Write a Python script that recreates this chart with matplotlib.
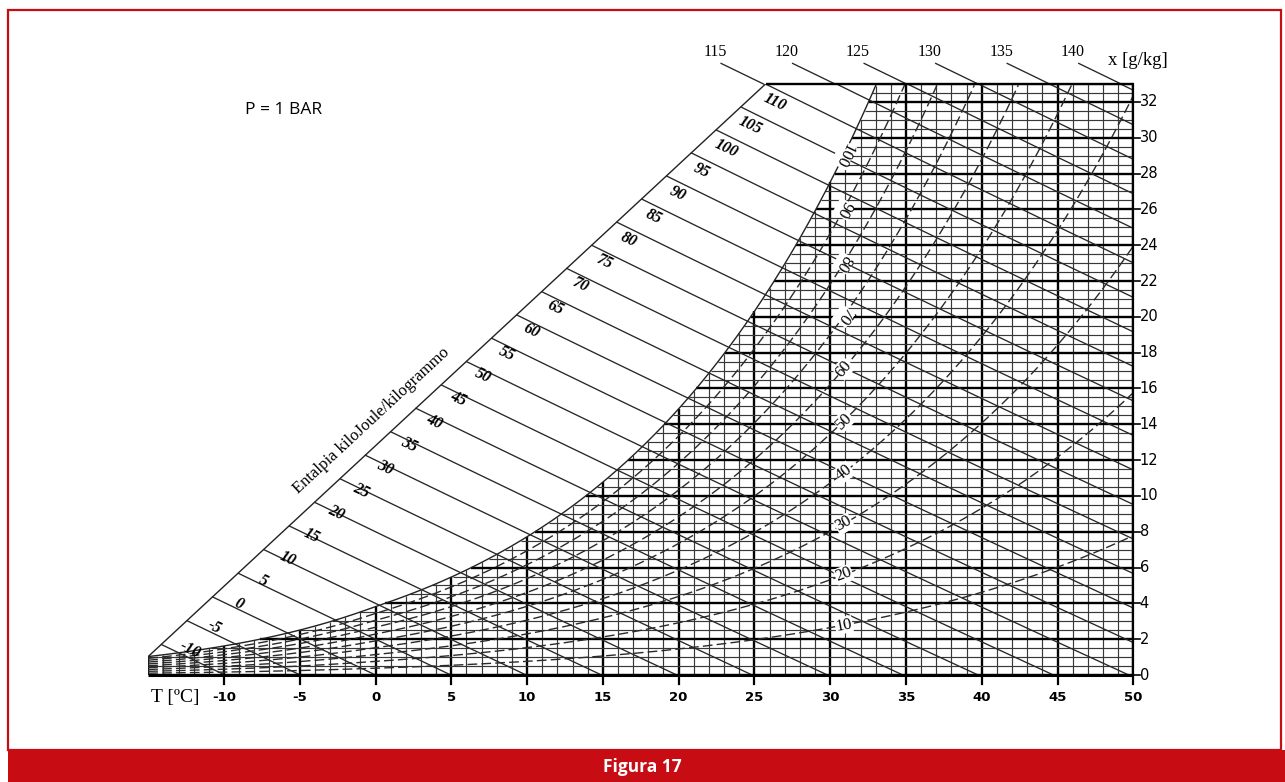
import numpy as np
import matplotlib
matplotlib.use("Agg")
import matplotlib.pyplot as plt
from matplotlib.patches import Rectangle

# ---- chart constants and data -------------------------------------------
P_KPA = 100.0            # total pressure, 1 bar
T_MIN, T_MAX = -15, 50   # dry-bulb range [°C]
X_MAX = 33               # humidity ratio range [g/kg]

temp_ticks = [-10, -5, 0, 5, 10, 15, 20, 25, 30, 35, 40, 45, 50]
x_ticks = [0, 2, 4, 6, 8, 10, 12, 14, 16, 18, 20, 22, 24, 26, 28, 30, 32]
rh_levels = [10, 20, 30, 40, 50, 60, 70, 80, 90]
rh_labels = [10, 20, 30, 40, 50, 60, 70, 80, 90, 100]
h_diag = [-10, -5, 0, 5, 10, 15, 20, 25, 30, 35, 40, 45, 50, 55,
          60, 65, 70, 75, 80, 85, 90, 95, 100, 105, 110]
h_inner = [115, 120, 125, 130, 135]
h_top = [115, 120, 125, 130, 135, 140]


def p_sat(T):
    T = np.asarray(T, dtype=float)
    water = 0.61094 * np.exp(17.625 * T / (T + 243.04))
    ice = 0.61115 * np.exp(22.452 * T / (272.55 + T))
    return np.where(T >= 0, water, ice)


def x_of(T, phi):
    pv = phi * p_sat(T)
    return 622.0 * pv / (P_KPA - pv)


def T_of_h(h, x):
    return (h - 2.501 * x) / (1.006 + 0.00186 * x)


T_fine = np.linspace(T_MIN, T_MAX, 6501)
x_sat_fine = x_of(T_fine, 1.0)


def T_sat(x):
    return np.interp(x, x_sat_fine, T_fine)


# ---- figure ----------------------------------------------------------------
W, H = 1285, 782
fig = plt.figure(figsize=(W / 100, H / 100), dpi=100)
fig.patch.set_facecolor("white")

red = "#C70C13"
fig.add_artist(Rectangle((8 / W, 32 / H), (1281 - 8) / W, (772 - 32) / H,
                         transform=fig.transFigure, fill=False,
                         edgecolor=red, lw=1.6))
fig.add_artist(Rectangle((8 / W, 0), 1 - 8 / W, 32 / H,
                         transform=fig.transFigure, facecolor=red,
                         edgecolor="none"))
fig.text(642 / W, 15 / H, "Figura 17", color="white", ha="center",
         va="center", fontsize=12.5, fontweight="bold", family="Open Sans")
fig.text(245 / W, 1 - 110 / H, "P = 1 BAR", ha="left", va="center",
         fontsize=12.5, family="Open Sans")

ax_left, ax_right = 148.2, 1133.3
ax_bottom, ax_top = 675.0, 84.0
ax = fig.add_axes([ax_left / W, 1 - ax_bottom / H,
                   (ax_right - ax_left) / W, (ax_bottom - ax_top) / H])
ax.set_xlim(T_MIN, T_MAX)
ax.set_ylim(0, X_MAX)
ax.axis("off")

thin = dict(color="#383838", lw=0.85, solid_capstyle="butt")
bold = dict(color="black", lw=1.7, solid_capstyle="butt")

# vertical grid (every 1 °C) under the saturation curve
for T in range(T_MIN, T_MAX + 1):
    top = min(float(x_of(T, 1.0)), X_MAX)
    ax.plot([T, T], [0, top], **(bold if T % 5 == 0 else thin), zorder=2)

# horizontal grid (every 0.5 g/kg) right of the saturation curve
for x in np.arange(0, X_MAX + 0.01, 0.5):
    start = max(T_sat(x), T_MIN)
    style = bold if (abs(x % 2) < 1e-9) else thin
    ax.plot([start, T_MAX], [x, x], **style, zorder=2)

# saturation curve
T_s = np.linspace(T_MIN, T_sat(X_MAX), 400)
ax.plot(T_s, x_of(T_s, 1.0), color="#222", lw=1.0, zorder=3)

# enthalpy scale line
T_d0, x_d0 = T_MIN, float(x_of(T_MIN, 1.0))
T_d1, x_d1 = float(T_of_h(h_diag[-1], X_MAX)), X_MAX
ax.plot([T_d0, T_d1], [x_d0, x_d1], color="#222", lw=1.0, zorder=3)

# top border and axes
ax.plot([T_d1, T_MAX], [X_MAX, X_MAX], **bold, zorder=4, clip_on=False)
ax.plot([T_MIN, T_MAX], [0, 0], color="black", lw=2.2, zorder=4,
        clip_on=False, solid_capstyle="butt")
ax.plot([T_MAX, T_MAX], [0, X_MAX], color="black", lw=1.6, zorder=4,
        clip_on=False)


def diag_T(x):
    return T_d0 + (x - x_d0) * (T_d1 - T_d0) / (x_d1 - x_d0)


# enthalpy lines
xs = np.linspace(0, X_MAX, 3301)
for h in h_diag + h_inner:
    Th = T_of_h(h, xs)
    inside = (Th >= diag_T(xs)) & (Th <= T_MAX) & (xs <= X_MAX)
    if not inside.any():
        continue
    ax.plot(Th[inside], xs[inside], color="#262626", lw=0.95, zorder=3)

# relative humidity curves
T_c = np.linspace(T_MIN, T_MAX, 1500)
for rh in rh_levels:
    xc = x_of(T_c, rh / 100.0)
    keep = xc <= X_MAX
    ax.plot(T_c[keep], xc[keep], color="#2a2a2a", lw=1.0,
            dashes=(7, 3), zorder=3)


def screen_angle(T, x, dT, dx):
    p0 = ax.transData.transform((T, x))
    p1 = ax.transData.transform((T + dT, x + dx))
    return np.degrees(np.arctan2(p1[1] - p0[1], p1[0] - p0[0]))


T_lab = 30.9
for rh in rh_labels:
    phi = rh / 100.0
    xl = float(x_of(T_lab, phi))
    slope = float(x_of(T_lab + 0.05, phi) - x_of(T_lab - 0.05, phi)) / 0.1
    ang = screen_angle(T_lab, xl, 1.0, slope)
    if rh >= 70:
        ang -= 180
    ax.text(T_lab, xl, str(rh), rotation=ang, rotation_mode="anchor",
            ha="center", va="center", fontsize=12, family="Liberation Serif",
            zorder=6,
            bbox=dict(facecolor="white", edgecolor="none", pad=0.4))

# enthalpy labels along the scale line
lab0 = (-12.24, 1.40)
lab1 = (26.36, 31.96)
h_ang = screen_angle(0, 10, 1.0, -1.006 / 2.52)
for h in h_diag:
    f = (h - h_diag[0]) / (h_diag[-1] - h_diag[0])
    Tl = lab0[0] + f * (lab1[0] - lab0[0])
    xl = lab0[1] + f * (lab1[1] - lab0[1])
    ax.text(Tl, xl, str(h), rotation=h_ang, rotation_mode="anchor",
            ha="center", va="center", fontsize=11.5, family="Liberation Serif",
            fontstyle="italic", fontweight="bold", zorder=6)

ax.text(-0.3, 14.2, "Entalpia kiloJoule/kilogrammo",
        rotation=screen_angle(T_d0, x_d0, T_d1 - T_d0, x_d1 - x_d0),
        rotation_mode="anchor", ha="center", va="center", fontsize=12,
        family="Liberation Serif", zorder=6)

# top enthalpy labels with leaders
for i, h in enumerate(h_top):
    Tl = 22.4 + i * 4.72
    ax.text(Tl, 34.8, str(h), ha="center", va="center", fontsize=11.5,
            family="Liberation Serif", clip_on=False)
    ax.plot([Tl + 0.4, Tl + 3.2], [34.15, X_MAX], color="#262626", lw=0.95,
            clip_on=False, zorder=3)

ax.text(50.3, 34.3, "x [g/kg]", ha="center", va="center", fontsize=13.5,
        family="Liberation Serif", clip_on=False)

# axis ticks and labels
for T in temp_ticks:
    ax.plot([T, T], [0, -0.5], color="black", lw=1.6, clip_on=False)
    ax.text(T, -1.25, str(T), ha="center", va="center", fontsize=9.5,
            fontweight="bold", family="DejaVu Sans", clip_on=False)
ax.text(-13.2, -1.25, "T [ºC]", ha="center", va="center", fontsize=14,
        family="Liberation Serif", clip_on=False)

for x in x_ticks:
    ax.plot([T_MAX, T_MAX + 0.45], [x, x], color="black", lw=1.2,
            clip_on=False)
    ax.text(T_MAX + 0.42, x, str(x), ha="left", va="center", fontsize=10.5,
            family="DejaVu Sans", clip_on=False)

fig.savefig("out.png", dpi=100, facecolor="white")
